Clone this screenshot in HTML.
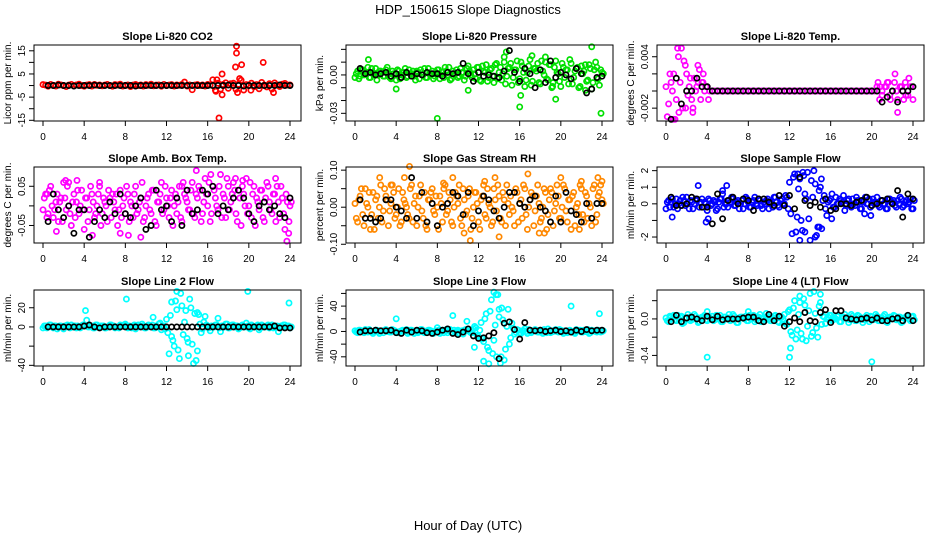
<!DOCTYPE html>
<html><head><meta charset="utf-8"><style>
html,body{margin:0;padding:0;background:#fff;}
svg{display:block;font-family:"Liberation Sans",sans-serif;}
</style></head><body>
<svg id="chart" width="936" height="540" viewBox="0 0 936 540" xmlns="http://www.w3.org/2000/svg">
<text x="468" y="14" font-size="13" text-anchor="middle">HDP_150615  Slope Diagnostics</text>
<text x="468" y="530" font-size="13" text-anchor="middle">Hour of Day (UTC)</text>
</svg>
<script>
const xTicks=[0,4,8,12,16,20,24];
// ---- Panel 1 CO2
const co2A=[0.4,0.2,-0.3,0.5,0.1,-0.2,0.6,0.3,0,-0.4,0.2,0.5,-0.1,0.3,0.6,0,-0.3,0.2,0.4,-0.2,0.5,0.1,0.3,-0.1,0.2,0.5,0,-0.3,0.4,0.2,0.6,-0.2,0.1,0.3,-0.4,0.2,0.5,0,0.3,-0.2,0.4,0.1,0.6,-0.1,0.2,0.3,-0.3,0.5,0,0.2,0.4,-0.2,0.3,0.1,0.5,1.5,-0.2,0.3,-1.8,0.2,0.4,0,0.3,-0.2,0.5,0.2,2.5,-2,1,-1.5,0.5,1.2,-1.2,0.8,1,-1.6,0.6,2.3,-1.9,0.4,0.2,1,-0.5,0.4,-1.4,1.3,0.2,-0.6,0.8,-1.5,1.1,0.3,-0.4,0.6,0.9,0.2,0.3];
const co2OH=[17.1,18.8,18.8,18.7,19.3,21.4,17.4,17.4,18.9,22.4,16.9,19.1,20.2,16.8];
const co2OV=[-14,17,14,8,9,10,5,-4,-3,-3,2.5,3,-2,-2.5];
const co2K=[0,0,0.2,0,0,-0.2,0,0,0,0.2,0,0,0,0,0,0,0,-0.2,0,0,0,0,0,0,0,0,0,0,0,0,0,0,0,0,0,0.2,0,0,-0.2,0,0,0,0,0,0,0.3,0,0];
// ---- Panel 2 Pressure
const prA=[-.002,.003,-.001,.004,.001,.006,-.002,.002,.005,.000,.003,-.001,.004,.002,-.003,.001,-.004,.003,.000,.002,-.002,.004,.001,-.001,.003,-.003,.002,.005,-.002,.001,.003,-.001,.004,-.003,.002,.006,.000,-.004,.003,.001,-.002,.005,.002,-.001,.007,.000,.004,-.003,.006,-.005,.003,.008,-.002,.005,-.006,.009,.002,-.004,.010,-.001,.006,-.008,.004,.011,-.003,.007,-.009,.002,.012,-.005,.005,.009,-.007,.003,.010,-.004,.008,-.006,.011,.001,-.009,.006,.004,-.007,.009,-.002,.005,-.010,.007,.003,-.005,.008,-.011,.004,.006,-.008,.002];
const prB=[.001,-.003,.004,.000,.002,-.002,.005,.001,-.004,.003,.002,-.001,.006,-.002,.003,.000,.004,-.003,.002,.005,-.001,.001,.003,-.004,.002,.004,.000,-.002,.005,.001,-.003,.002,.004,.000,-.002,.003,.006,-.003,.001,.004,-.001,.002,-.004,.005,.003,-.002,.001,.006,-.004,.007,.002,-.005,.004,-.001,.008,-.003,.006,.001,-.007,.005,.009,-.002,.004,-.006,.010,.002,-.004,.007,-.008,.005,.003,-.006,.011,.000,-.003,.008,-.010,.006,.002,-.005,.009,-.002,.004,.012,-.007,.003,.006,-.009,.001,.008,-.004,.005,-.006,.010,-.003,.004,.001];
const prOH=[8.0,23.0,23.9,16.0,16.1,19.5,4.0,11.0,14.5,17.2,18.5,1.3,14.7,19.2,22.4];
const prOV=[-.034,.022,-.030,-.025,-.016,-.019,-.011,-.012,.014,.015,.014,.012,.018,-.009,-.012];
const prK=[.005,.001,.002,.000,.001,.002,-.001,.001,-.002,.002,-.001,.001,.000,.002,.001,.001,-.001,.002,.001,.002,.009,.001,-.005,.002,-.001,.000,-.001,-.002,.003,.019,.002,-.005,.005,.001,-.010,.004,-.006,.011,-.002,.002,.000,-.003,.005,.001,-.014,-.011,-.002,-.001];
// ---- Panel 3 Li-820 Temp
const ltA=[.0005,-.0015,.0010,.0020,-.0010,-.0025,.0050,.0035,.0020,.0005,-.0010,.0015,.0005,.0025,.0010,.0000,.0005,0,0,0,0,0,0,0,0,0,0,0,0,0,0,0,0,0,0,0,0,0,0,0,0,0,0,0,0,0,0,0,0,0,0,0,0,0,0,0,0,0,0,0,0,0,0,0,0,0,0,0,0,0,0,0,0,0,0,0,0,0,0,0,0,0,.0005,-.0010,.0000,.0005,.0010,-.0005,.0000,.0020,-.0010,.0005,.0000,.0010,-.0005,.0005,-.0010];
const ltB=[-.0030,.0020,.0000,-.0033,.0050,.0010,-.0020,.0030,-.0005,.0015,-.0020,.0000,.0010,-.0010,.0020,.0005,-.0010];
const ltOH=[20.6,21.0,21.4,21.8,22.2,22.5,22.9,23.3,23.6,20.8,21.6,22.4,23.1,23.8,0.7,1.2,1.9,2.6,3.1,3.6];
const ltOV=[.0010,-.0005,.0005,-.0010,.0010,-.0025,.0005,-.0005,.0015,.0005,.0010,.0000,-.0010,.0005,-.0033,.0040,-.0020,-.0025,.0030,.0010];
const ltK=[-.0033,.0015,-.0015,.0000,.0000,.0015,.0005,.0005,0,0,0,0,0,0,0,0,0,0,0,0,0,0,0,0,0,0,0,0,0,0,0,0,0,0,0,0,0,0,0,0,0,-.0013,-.0007,0,-.0013,0,0,.0005];
// ---- Panel 4 Amb Box Temp
const abA=[-.01,.03,-.02,.05,-.03,.01,-.04,.02,.06,-.01,.00,-.05,.03,.01,-.02,.04,-.06,.02,-.01,.03,-.03,.00,.05,-.02,.01,-.04,.02,.03,-.01,-.05,.04,.00,-.02,.03,.01,-.03,.05,-.01,.02,-.04,.00,.03,-.02,.04,-.05,.01,.06,-.01,.02,-.03,.04,.00,-.02,.05,-.04,.03,.01,-.01,.06,-.03,.02,.04,-.02,.07,.00,-.04,.05,.02,-.01,.08,.03,-.03,.05,.01,.06,-.02,.04,-.05,.03,.07,.00,-.03,.05,.02,-.01,.04,-.04,.06,.01,-.02,.03,.05,-.03,.02,-.06,.01,.00];
const abB=[.02,-.03,.04,.00,-.01,.03,.01,-.04,.02,.05,-.02,.01,-.03,.04,.00,-.01,.02,-.04,.05,.01,-.02,.03,-.05,.02,.00,.04,-.03,.01,.03,-.01,-.03,.02,.05,-.04,.00,.03,-.02,.01,.06,-.03,.02,-.01,.04,-.04,.01,.03,-.02,.05,.00,.02,-.05,.03,.01,-.03,.06,.02,-.01,.04,-.02,.03,.05,-.04,.01,.03,.06,-.02,.04,.00,.05,-.03,.02,.07,-.01,.03,.04,-.04,.02,.05,.00,-.02,.06,.03,-.05,.01,.04,-.03,.02,.05,-.01,.03,-.04,.01,.05,-.02,.03,-.07,.01];
const abOH=[1.3,2.5,0.4,3.3,5.5,4.8,7.5,9.5,14.9,13.5,16.3,18.7,19.4,22.6,23.7,23.9,2.2,8.3];
const abOV=[-.065,.06,.03,.065,.06,-.075,-.07,-.08,.09,.05,.08,.07,.065,.07,-.09,-.04,.065,-.075];
const abK=[-.04,.03,-.01,-.03,.00,-.07,-.01,-.01,-.08,-.04,-.01,-.03,.01,-.02,.03,-.02,-.03,.00,.02,-.06,-.05,.04,-.01,.00,-.04,.02,-.05,.04,-.02,-.01,.04,.03,.05,-.02,.00,-.01,.02,.04,.02,-.02,-.04,.00,.01,-.01,.00,-.02,-.03,.02];
// ---- Panel 5 Gas Stream RH
const rhA=[.01,-.04,.03,-.02,.05,.00,-.06,.04,.02,-.03,.06,-.01,.03,-.05,.01,.04,-.02,.05,-.04,.02,.00,-.03,.06,.01,-.05,.03,-.01,.04,-.06,.02,.05,-.02,.00,.03,-.04,.06,-.01,.02,-.05,.04,.01,-.03,.05,-.02,.03,-.06,.00,.04,-.04,.02,.06,-.03,.01,-.05,.05,-.01,.03,-.04,.02,.06,-.02,.00,-.05,.04,.01,-.03,.05,-.06,.02,.03,-.01,.06,-.04,.00,.04,-.02,.05,-.05,.01,.03,-.03,.06,-.01,.02,-.06,.04,.00,-.02,.05,-.04,.03,.01,-.05,.06,-.02,.04,.02];
const rhB=[-.03,.02,.05,-.05,.01,.04,-.02,-.06,.03,.00,-.04,.05,.02,-.01,.06,-.03,.00,-.05,.04,.01,-.02,.05,-.04,.03,.00,.06,-.03,-.05,.02,.04,-.01,.03,-.06,.01,.05,-.02,.04,-.04,.00,.03,.06,-.05,.02,-.01,.05,-.03,.04,.01,-.06,.03,-.02,.05,.00,-.04,.02,.06,-.03,.04,-.05,.01,.03,-.01,.05,-.04,.02,.06,-.02,.00,.04,-.05,.03,.01,-.03,.05,-.06,.02,.04,-.01,.06,-.03,.00,.05,-.04,.02,.03,-.05,.01,.06,-.02,.04,-.03,.00,.05,-.04,.03,.06,.01];
const rhOH=[2.4,4.8,5.3,3.5,9.5,6.6,10.6,12.6,13.6,16.8,18.4,20,23.6,24,14,17.9,11.2,8.6,21.8,22];
const rhOV=[.08,.08,.11,.06,.08,-.1,-.07,.07,.08,.09,-.07,.08,.08,.07,-.08,-.07,-.09,.065,-.06,.07];
const rhK=[.02,-.03,-.03,-.04,-.03,.02,.02,.00,-.01,-.03,.08,-.03,.04,-.04,.01,-.05,.00,.01,.04,.03,-.02,.04,-.05,-.01,.03,.02,-.01,-.03,.00,.04,.04,.01,.00,.02,.03,.00,-.01,-.04,.03,-.04,.04,-.01,-.02,-.04,.01,-.03,.01,.01];
// ---- Panel 6 Sample Flow
const sfA=[-.3,.2,.1,-.2,.3,.0,-.1,.2,.4,-.3,.1,.0,.2,-.2,.3,.1,-.4,.2,.0,.1,-.3,.3,.6,.0,-.2,.1,.3,-.1,.2,.0,-.3,.4,.1,-.2,.2,.0,.3,-.1,.1,.2,-.3,.0,.4,.1,-.2,.3,.0,.4,1.3,-1.8,1.8,-.8,1.5,-1.6,.6,1.9,-2.2,.4,1.2,-1.4,1.0,.2,-.3,.1,.3,-.2,.4,.0,.2,.5,-.1,.3,-.2,.0,.4,.1,-.3,.2,.0,.3,-.1,.1,.4,-.2,.2,.0,-.3,.3,.1,-.1,.2,.4,-.2,.1,.0,.3,-.3];
const sfB=[.1,-.2,.3,.0,-.3,.2,.4,-.1,.0,.2,-.3,.3,1.1,.1,-.2,.0,.3,-.1,.2,-.4,.1,.3,-.2,.0,.2,.4,-.1,.1,-.3,.2,.0,.3,-.2,.1,.4,-.1,.2,-.3,.0,.3,.1,-.2,.4,-.1,.2,.0,.5,-.3,-.6,1.6,-1.7,.9,-1.0,1.7,.3,-.9,1.4,2.0,-1.9,.8,-1.5,.5,-.7,.2,.6,-.2,.0,.3,.1,-.4,.2,.0,.3,-.1,.2,-.3,.1,.4,.0,-.2,.3,.1,-.1,.2,.0,-.3,.3,.1,.2,-.2,.0,.3,-.1,.2,.1,-.3,.2];
const sfOH=[0.6,4.1,5.5,5.9,3.9,13.0,13.5,14.5,15.1,12.8,16.1,19.3,19.9,14.9,13.3];
const sfOV=[-.8,-.9,.8,1.1,-1.1,-2.2,-1.7,-2.0,1.5,1.8,-.9,-.6,-.7,-1.4,1.9];
const sfK=[.4,-.1,-.1,.0,.4,.3,-.2,-.2,-1.2,.6,-.9,.2,.4,.0,.3,.2,-.4,.3,.3,.1,-.1,.5,-.1,.5,-.3,1.6,.2,-.1,.1,-.2,.3,-.4,-.3,.0,.0,-.1,.1,.2,.4,-.1,.0,.2,.3,.0,.8,-.8,.6,.3];
// ---- Panel 7 Line 2 Flow
const l2A=[-1,1,0,2,-1,1,0,1,-2,1,0,2,1,-1,0,1,2,7,0,1,-1,2,0,1,-1,0,2,1,-1,0,2,1,3,-1,0,1,-2,2,0,1,-1,2,0,-1,1,3,-3,1,8,-28,26,-20,18,-33,22,5,-12,29,-18,14,-25,3,-2,11,1,-4,0,2,9,-5,1,3,-1,0,2,1,-2,1,0,4,-1,2,0,1,-3,2,0,1,-1,2,0,1,-1,0,2,1,-1];
const l2B=[1,-1,2,0,1,-2,1,0,1,2,-1,0,1,1,-1,2,17,0,1,-1,2,0,1,1,-1,0,2,1,0,-1,1,2,0,1,-1,2,0,1,3,-1,0,1,2,-1,0,4,1,-2,-6,12,-14,27,-24,35,-8,17,-30,20,-38,-35,13,-6,5,2,-1,1,0,2,-1,1,0,3,-1,2,0,1,-1,2,0,1,-2,1,0,2,-1,1,0,2,1,-1,0,-5,1,2,0,1,0];
const l2OH=[8.1,10.7,19.9,23.9,13.0,14.1,15.0,12.5];
const l2OV=[29,10,37,25,37,-16,15,-10];
const l2K=[0,0,0,0,0,0,0,1,2,0,-1,0,0,0,0,0,0,0,0,0,0,0,0,0,0,0,0,0,0,0,0,0,0,0,0,0,0,0,0,0,0,0,0,0,1,-1,-1,-1];
// ---- Panel 8 Line 3 Flow
const l3A=[1,-2,2,0,3,-1,1,-3,2,0,1,-2,3,1,-1,2,20,-2,1,0,3,-1,2,-3,1,0,3,-2,1,2,-1,0,6,-3,2,1,-2,3,25,-1,2,0,-4,3,1,-2,4,6,-8,14,-16,28,-30,50,-14,-40,23,37,-45,8,-20,13,-4,3,-2,1,4,-3,2,0,3,-1,2,-3,1,4,-2,0,3,-1,2,-3,1,0,40,-2,3,1,-1,2,0,-3,2,1,-1,28,0];
const l3B=[-1,2,0,-2,1,3,-1,0,2,-3,1,2,0,-1,3,1,-2,0,2,1,-3,2,0,1,-2,3,-1,0,2,1,-3,1,2,0,-2,3,1,-1,2,0,-3,1,2,16,0,-2,8,-6,2,-12,20,-25,32,-35,10,58,-50,18,-28,35,-10,5,-1,2,-3,1,0,3,-2,1,2,-1,0,3,-2,1,-1,2,0,3,-1,1,-2,2,0,-3,1,2,-1,0,3,-2,1,0,2,-1,1];
const l3OH=[13.5,13.7,12.5,14.2,11.6,13.0,14.0];
const l3OV=[62,58,-47,-40,-25,-51,35];
const l3K=[-1,1,1,2,1,1,2,-2,-3,2,-1,2,1,-2,-3,-1,2,4,-3,-5,-1,4,-7,-11,-10,-7,-2,-43,13,15,3,-12,14,2,1,2,0,1,2,0,1,-1,2,0,3,1,2,2];
// ---- Panel 9 Line 4 (LT) Flow
const l4A=[.01,-.03,.02,.04,-.02,.00,.03,-.04,.01,.02,-.01,.05,.00,-.03,.02,.04,-.02,.01,.03,-.01,.00,.04,-.03,.02,.01,-.02,.05,.00,-.04,.02,.01,.03,-.02,.00,.04,-.01,.02,-.03,.01,.06,.00,-.02,.03,.01,-.04,.02,.05,-.06,.10,-.18,.20,-.12,.25,-.22,.15,-.08,.28,-.15,.06,-.20,.18,.03,-.05,.02,.04,-.01,.00,.03,-.03,.02,.01,-.04,.05,.00,-.02,.03,.01,-.01,.04,-.03,.02,.00,.03,-.02,.01,.05,-.04,.02,.00,.03,-.01,.02,-.03,.01,.04,-.02,.03];
const l4B=[-.02,.03,.00,-.01,.04,.02,-.03,.01,.05,-.02,.00,.03,-.04,.01,.02,-.01,.03,.00,-.02,.04,.01,-.03,.02,.00,.05,-.01,.03,-.04,.01,.02,.00,-.02,.04,.01,-.03,.02,.05,.00,-.01,.03,-.02,.01,.04,-.03,.02,.00,-.05,.08,-.14,.12,-.22,.05,-.16,.22,-.24,.09,-.19,.30,-.10,.14,-.06,.02,.00,.04,-.02,.01,.03,-.03,.02,.05,.00,-.01,.03,-.02,.04,.01,-.04,.02,.00,.03,-.01,.05,-.02,.01,.03,-.03,.00,.02,.04,-.01,.02,-.04,.01,.03,.00,.02,-.01];
const l4OH=[4.0,12.0,20.0,12.1,13.0,15.0,8.0,4.0,1.6];
const l4OV=[-.42,-.42,-.47,-.32,.18,.27,.08,.08,-.05];
const l4K=[-.03,.04,-.03,.01,.02,.00,-.02,.03,-.01,.03,-.01,.00,.00,.00,.01,.02,.02,-.02,-.03,.05,-.02,.03,-.08,-.03,.01,-.03,.07,-.02,-.03,.07,.10,-.04,.09,.09,.01,.00,-.01,.00,.01,-.01,.01,-.02,-.02,.00,.01,-.02,.04,-.02];

const panels=[
 {id:'co2',title:'Slope Li-820 CO2',ylab:'Licor ppm per min.',col:0,row:0,dom:[-15.3,17.5],ticks:[-15,-10,-5,0,5,10,15],labs:['-15','','-5','','5','','15'],color:'#ff0000',A:co2A,B:null,OH:co2OH,OV:co2OV,K:co2K},
 {id:'pressure',title:'Slope Li-820 Pressure',ylab:'kPa per min.',col:1,row:0,dom:[-0.036,0.0234],ticks:[-0.03,-0.02,-0.01,0,0.01,0.02],labs:['-0.03','','','0.00','',''],color:'#00e000',A:prA,B:prB,OH:prOH,OV:prOV,K:prK},
 {id:'li820-temp',title:'Slope Li-820 Temp.',ylab:'degrees C per min.',col:2,row:0,dom:[-0.0035,0.00537],ticks:[-0.002,0,0.002,0.004],labs:['-0.002','','','0.004'],color:'#ff00ff',A:ltA,B:ltB,OH:ltOH,OV:ltOV,K:ltK},
 {id:'amb-box-temp',title:'Slope Amb. Box Temp.',ylab:'degrees C per min.',col:0,row:1,dom:[-0.0947,0.0992],ticks:[-0.05,0,0.05],labs:['-0.05','','0.05'],color:'#ff00ff',A:abA,B:abB,OH:abOH,OV:abOV,K:abK},
 {id:'gas-rh',title:'Slope Gas Stream RH',ylab:'percent per min.',col:1,row:1,dom:[-0.0966,0.1085],ticks:[-0.1,-0.05,0,0.05,0.1],labs:['-0.10','','0.00','','0.10'],color:'#ff8800',A:rhA,B:rhB,OH:rhOH,OV:rhOV,K:rhK},
 {id:'sample-flow',title:'Slope Sample Flow',ylab:'ml/min per min.',col:2,row:1,dom:[-2.36,2.22],ticks:[-2,-1,0,1,2],labs:['-2','','0','1','2'],color:'#0000ff',A:sfA,B:sfB,OH:sfOH,OV:sfOV,K:sfK},
 {id:'line2-flow',title:'Slope Line 2 Flow',ylab:'ml/min per min.',col:0,row:2,dom:[-40.7,38.5],ticks:[-40,-20,0,20],labs:['-40','','0','20'],color:'#00ffff',A:l2A,B:l2B,OH:l2OH,OV:l2OV,K:l2K},
 {id:'line3-flow',title:'Slope Line 3 Flow',ylab:'ml/min per min.',col:1,row:2,dom:[-54.5,65.4],ticks:[-40,-20,0,20,40,60],labs:['-40','','0','','40',''],color:'#00ffff',A:l3A,B:l3B,OH:l3OH,OV:l3OV,K:l3K},
 {id:'line4-flow',title:'Slope Line 4 (LT) Flow',ylab:'ml/min per min.',col:2,row:2,dom:[-0.516,0.317],ticks:[-0.4,-0.2,0,0.2],labs:['-0.4','','0.0',''],color:'#00ffff',A:l4A,B:l4B,OH:l4OH,OV:l4OV,K:l4K}
];
const boxL=[34,346,657], boxW=267, boxT=[45,167,290], boxH=76;
const NS='http://www.w3.org/2000/svg';
const svg=document.getElementById('chart');
function mk(tag,attrs,parent){const e=document.createElementNS(NS,tag);for(const k in attrs)e.setAttribute(k,attrs[k]);parent.appendChild(e);return e;}
panels.forEach(p=>{
  const L=boxL[p.col],T=boxT[p.row],R=L+boxW,B=T+boxH;
  const xs=h=>L+9+h*(247/24);
  const ys=v=>B-(v-p.dom[0])/(p.dom[1]-p.dom[0])*boxH;
  const g=mk('g',{},svg);
  
  
  const t=mk('text',{x:(L+R)/2,y:T-5,'font-size':11,'font-weight':'bold','text-anchor':'middle'},g);
  
  
  t.textContent=p.title;
  const yl=mk('text',{x:0,y:0,'font-size':10,'text-anchor':'middle',transform:`translate(${L-23},${(T+B)/2}) rotate(-90)`},g);
  
  
  yl.textContent=p.ylab;
  const pts=mk('g',{fill:'none','stroke-width':1.7},g);
  
  
  function dot(h,v,c){if(v===null||v===undefined)return;const y=ys(v);if(y<T-1||y>B+1)return;
    const e=mk('circle',{cx:xs(h).toFixed(1),cy:y.toFixed(1),r:2.6,stroke:c},pts);
    
    }
  p.A.forEach((v,i)=>dot(i*0.25,v,p.color));
  if(p.B)p.B.forEach((v,i)=>dot(i*0.25+0.125,v,p.color));
  p.OH.forEach((h,i)=>dot(h,p.OV[i],p.color));
  p.K.forEach((v,i)=>dot((i+1)*0.5,v,'#000'));
  const box=mk('rect',{x:L,y:T,width:boxW,height:boxH,fill:'none',stroke:'#000','stroke-width':1},g);
  
  
  xTicks.forEach(h=>{
    const x=xs(h);
    const tk=mk('line',{x1:x,x2:x,y1:B,y2:B+5,stroke:'#000'},g);
    
    
    const tl=mk('text',{x:x,y:B+19,'font-size':10,'text-anchor':'middle'},g);
    
    
    tl.textContent=h;
  });
  p.ticks.forEach((v,i)=>{
    const y=ys(v);
    const tk=mk('line',{x1:L-5,x2:L,y1:y,y2:y,stroke:'#000'},g);
    
    
    if(p.labs[i]){
      const tl=mk('text',{x:0,y:0,'font-size':10,'text-anchor':'middle',transform:`translate(${L-9},${y}) rotate(-90)`},g);
      
      
      tl.textContent=p.labs[i];
    }
  });
});
</script>
</body></html>
